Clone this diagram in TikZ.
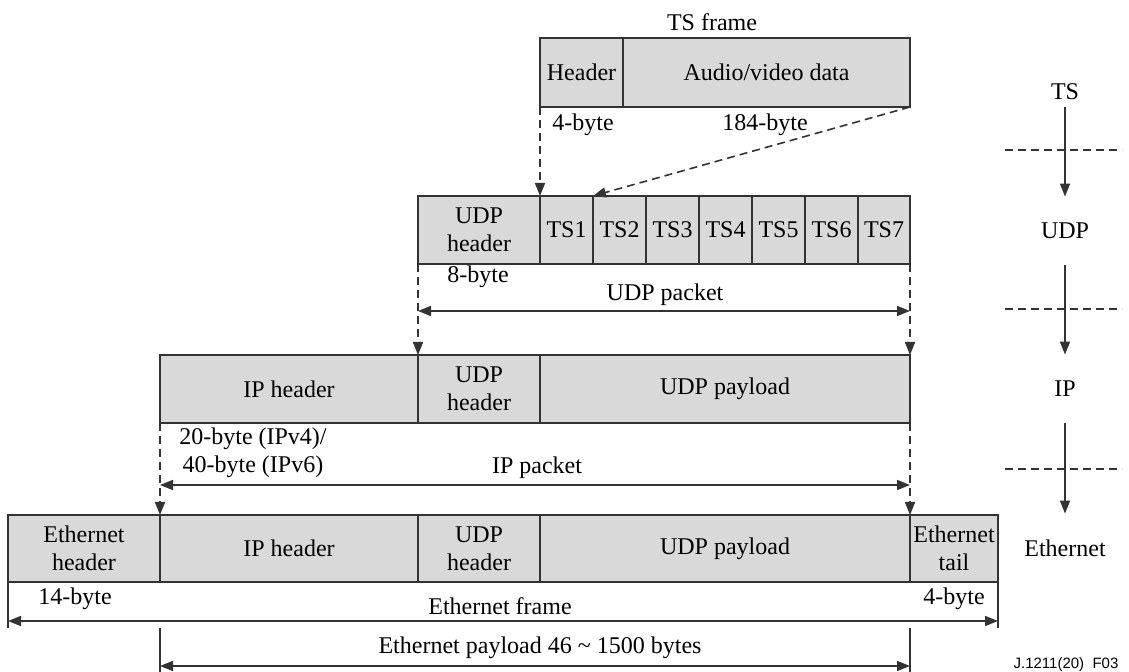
\documentclass[tikz,border=0pt]{standalone}
\usepackage{fontspec}
\setmainfont{Liberation Serif}
\newfontfamily\footfont{Liberation Sans}
\usetikzlibrary{arrows.meta}
\definecolor{cellgray}{HTML}{D9D9D9}
\definecolor{edgegray}{HTML}{333333}
\newcommand{\cellnode}[6]{%
  \node[cell, minimum width={(#4-#2)*0.5pt}, minimum height={(#5-#3)*0.5pt}]
    (#1) at ({(#2+#4)/2},{(#3+#5)/2}) {#6};}
\begin{document}
\begin{tikzpicture}[x=0.5pt,y=-0.5pt,
  every node/.style={font=\fontsize{12}{14}\selectfont, text=black},
  cell/.style={draw=edgegray, fill=cellgray, line width=0.9pt, inner sep=0pt, outer sep=0pt, align=center},
  lbl/.style={inner sep=0pt, align=center},
  tip/.style={-{Triangle[length=6.5pt,width=5pt]}},
  twotip/.style={{Triangle[length=6.5pt,width=5pt]}-{Triangle[length=6.5pt,width=5pt]}},
  link/.style={draw=edgegray, line width=0.8pt},
  dashlink/.style={link, dash pattern=on 4pt off 2.5pt},
  layer/.style={inner sep=0pt, minimum height=34pt},
]
\useasboundingbox (0,0) rectangle (1129,672);

% TS frame
\node[lbl] (tsf) at (712,22) {TS frame};
\cellnode{hdr}{540}{38}{623}{107}{Header}
\cellnode{av}{623}{38}{910}{107}{Audio/video data}
\node[lbl] (b4) at (583,125) {4-byte};
\node[lbl] (b184) at (765,125) {184-byte};

% UDP packet
\cellnode{udph}{418}{196}{540}{264}{UDP\\header}
\cellnode{ts1}{540}{196}{593}{264}{TS1}
\cellnode{ts2}{593}{196}{646}{264}{TS2}
\cellnode{ts3}{646}{196}{699}{264}{TS3}
\cellnode{ts4}{699}{196}{752}{264}{TS4}
\cellnode{ts5}{752}{196}{805}{264}{TS5}
\cellnode{ts6}{805}{196}{858}{264}{TS6}
\cellnode{ts7}{858}{196}{910}{264}{TS7}
\node[lbl] (b8) at (478,277) {8-byte};
\node[lbl] (udppk) at (665,295) {UDP packet};

% IP packet
\cellnode{iph}{160}{355}{418}{423}{IP header}
\cellnode{iudp}{418}{355}{540}{423}{UDP\\header}
\cellnode{ipay}{540}{355}{910}{423}{UDP payload}
\node[lbl] (b20) at (253,453) {20-byte (IPv4)/\\40-byte (IPv6)};
\node[lbl] (ippk) at (537,468) {IP packet};

% Ethernet frame
\cellnode{eh}{8}{515}{160}{582}{Ethernet\\header}
\cellnode{eip}{160}{515}{418}{582}{IP header}
\cellnode{eudp}{418}{515}{540}{582}{UDP\\header}
\cellnode{epay}{540}{515}{910}{582}{UDP payload}
\cellnode{etail}{910}{515}{998}{582}{Ethernet\\tail}
\node[lbl] (b14) at (75,599) {14-byte};
\node[lbl] (ethfr) at (500,606) {Ethernet frame};
\node[lbl] (b4t) at (954,599) {4-byte};
\node[lbl] (ethpl) at (540,648) {Ethernet payload 46 \char`\~{} 1500 bytes};

% mapping between layers
\draw[dashlink, tip] (hdr.south west) -- (udph.north east);
\draw[dashlink, tip] (av.south east) -- (ts2.north west);
\draw[dashlink, tip] (udph.south west) -- (iudp.north west);
\draw[dashlink, tip] (ts7.south east) -- (ipay.north east);
\draw[dashlink, tip] (iph.south west) -- (eip.north west);
\draw[dashlink, tip] (ipay.south east) -- (epay.north east);

% length arrows
\coordinate (udpy) at (0,311);
\draw[link, twotip] (udph.south west |- udpy) -- (ts7.south east |- udpy);
\coordinate (ipy) at (0,485);
\draw[link, twotip] (iph.south west |- ipy) -- (ipay.south east |- ipy);

\coordinate (fry) at (0,621);
\coordinate (ticky) at (0,628);
\draw[link] (eh.south west) -- (eh.south west |- ticky);
\draw[link] (etail.south east) -- (etail.south east |- ticky);
\draw[link, twotip] (eh.south west |- fry) -- (etail.south east |- fry);

\coordinate (ply) at (0,666);
\coordinate (plbot) at (0,672);
\draw[link] (eip.south west |- ticky) -- (eip.south west |- plbot);
\draw[link] (epay.south east |- ticky) -- (epay.south east |- plbot);
\draw[link, twotip] (eip.south west |- ply) -- (epay.south east |- ply);

% protocol stack column
\node[inner sep=0pt, minimum height=15pt] (lts) at (1065,92) {TS};
\node[layer] (ludp) at (1065,231) {UDP};
\node[layer] (lip) at (1065,389) {IP};
\node[layer] (leth) at (1065,548) {Ethernet};
\draw[link, tip] (lts.south) -- (ludp.north);
\draw[link, tip] (ludp.south) -- (lip.north);
\draw[link, tip] (lip.south) -- (leth.north);
\draw[dashlink] (1005,150) -- (1122,150);
\draw[dashlink] (1005,309) -- (1122,309);
\draw[dashlink] (1005,469) -- (1122,469);

\node[lbl, font=\footfont\fontsize{7.5}{9}\selectfont] (fig) at (1066,665) {J.1211(20)\ \ F03};
\end{tikzpicture}
\end{document}
